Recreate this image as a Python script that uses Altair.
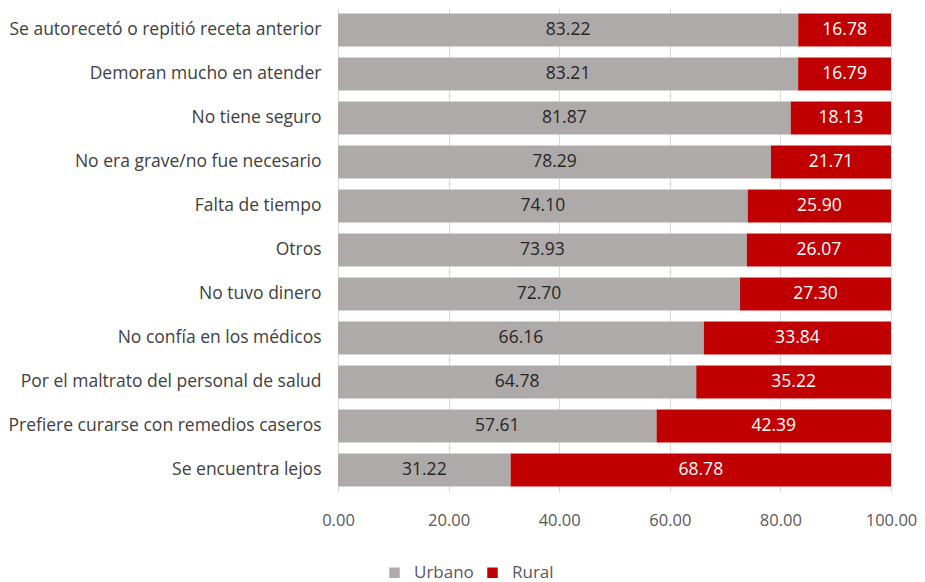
import altair as alt
import pandas as pd

categories = [
    "Se autorecetó o repitió receta anterior",
    "Demoran mucho en atender",
    "No tiene seguro",
    "No era grave/no fue necesario",
    "Falta de tiempo",
    "Otros",
    "No tuvo dinero",
    "No confía en los médicos",
    "Por el maltrato del personal de salud",
    "Prefiere curarse con remedios caseros",
    "Se encuentra lejos",
]
urbano = [83.22, 83.21, 81.87, 78.29, 74.10, 73.93, 72.70, 66.16, 64.78, 57.61, 31.22]
rural = [16.78, 16.79, 18.13, 21.71, 25.90, 26.07, 27.30, 33.84, 35.22, 42.39, 68.78]
series = ["Urbano", "Rural"]
colors = ["#AEAAAA", "#C00000"]
text_colors = ["#262626", "#FFFFFF"]

rows = []
for c, u, r in zip(categories, urbano, rural):
    rows.append({"cat": c, "serie": "Urbano", "val": u, "ord": 0, "tc": text_colors[0]})
    rows.append({"cat": c, "serie": "Rural", "val": r, "ord": 1, "tc": text_colors[1]})
df = pd.DataFrame(rows)

FONT = "Open Sans"

base = alt.Chart(df).transform_stack(
    stack="val", groupby=["cat"], as_=["x0", "x1"], sort=[alt.SortField("ord")]
).transform_calculate(mid="(datum.x0 + datum.x1) / 2")

y_enc = alt.Y(
    "cat:N",
    sort=categories,
    title=None,
    scale=alt.Scale(paddingInner=0.25, paddingOuter=0.125),
    axis=alt.Axis(domain=False, ticks=False, labelPadding=17, labelFontSize=17.5,
                  labelColor="#404040", labelFont=FONT, labelLimit=400),
)

bars = base.mark_bar().encode(
    y=y_enc,
    x=alt.X("x0:Q", title=None,
            scale=alt.Scale(domain=[0, 100], nice=False),
            axis=alt.Axis(values=[0, 20, 40, 60, 80, 100], format=".2f", domain=False,
                          ticks=False, labelPadding=20, labelFontSize=16.5,
                          labelColor="#595959", labelFont=FONT, labelFlush=False,
                          grid=True, gridColor="#D9D9D9", gridWidth=1)),
    x2="x1:Q",
    color=alt.Color("serie:N", sort=series,
                    scale=alt.Scale(domain=series, range=colors),
                    legend=alt.Legend(title=None, orient="none", direction="horizontal",
                                      legendX=48, legendY=556, symbolType="square",
                                      symbolSize=110, symbolStrokeWidth=0,
                                      labelFontSize=17, labelFont=FONT, labelOffset=11,
                                      labelColor="#595959", columnPadding=10,
                                      symbolOpacity=1)),
)

labels = base.mark_text(fontSize=17.5, font=FONT).encode(
    y=alt.Y("cat:N", sort=categories),
    x=alt.X("mid:Q"),
    text=alt.Text("val:Q", format=".2f"),
    color=alt.Color("tc:N", scale=None),
)

chart = (bars + labels).properties(
    width=553, height=484,
    autosize=alt.AutoSizeParams(type="none"),
    padding={"left": 330, "top": 0, "right": 26, "bottom": 90},
).configure_view(stroke=None)

chart.save("out.html", embed_options={"renderer": "svg", "actions": False})
